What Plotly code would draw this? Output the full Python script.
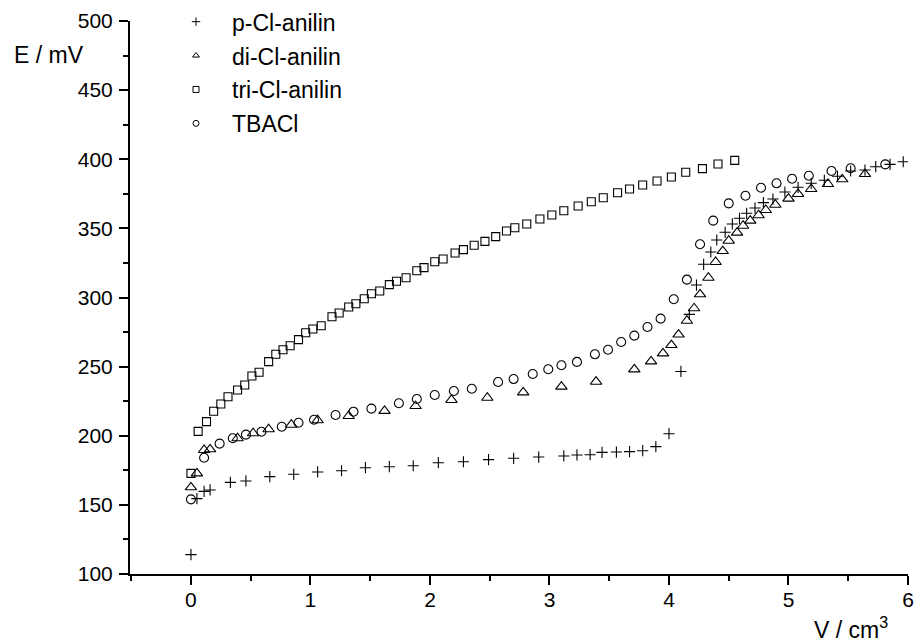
import plotly.graph_objects as go

# p-Cl-anilin (+)
p_x = [0.00, 0.05, 0.11, 0.16, 0.33, 0.46, 0.66, 0.86, 1.06, 1.26, 1.46, 1.66, 1.86, 2.07, 2.28, 2.49,
       2.70, 2.91, 3.12, 3.23, 3.34, 3.44, 3.56, 3.67, 3.78, 3.89, 4.00, 4.10, 4.17, 4.23, 4.29, 4.35,
       4.40, 4.47, 4.53, 4.59, 4.65, 4.72, 4.79, 4.87, 4.97, 5.08, 5.19, 5.30, 5.41, 5.52, 5.64, 5.73,
       5.85, 5.96]
p_y = [114.0, 154.5, 159.8, 160.8, 166.3, 167.3, 170.4, 172.1, 173.8, 174.7, 176.9, 177.6, 178.3, 180.5,
       181.2, 182.7, 183.7, 184.6, 185.4, 186.1, 186.3, 188.0, 188.2, 188.5, 189.2, 192.1, 201.5, 246.5,
       287.8, 309.0, 324.0, 332.9, 341.6, 347.2, 353.2, 357.3, 360.9, 364.7, 368.6, 371.2, 376.3, 379.7,
       382.6, 384.8, 387.7, 391.5, 392.2, 394.6, 396.3, 398.2]

# di-Cl-anilin (triangle)
d_x = [0.00, 0.05, 0.11, 0.16, 0.39, 0.52, 0.65, 0.84, 1.06, 1.32, 1.62, 1.88, 2.18, 2.48, 2.78, 3.10,
       3.39, 3.71, 3.85, 3.95, 4.02, 4.08, 4.15, 4.21, 4.26, 4.33, 4.39, 4.45, 4.50, 4.57, 4.62, 4.68,
       4.75, 4.81, 4.89, 5.00, 5.08, 5.19, 5.33, 5.45, 5.64]
d_y = [162.7, 172.8, 189.7, 190.2, 198.2, 201.8, 204.7, 208.0, 211.2, 214.3, 218.0, 221.5, 225.9, 227.5,
       231.4, 235.5, 239.1, 248.0, 253.8, 259.6, 265.6, 273.2, 283.2, 292.2, 302.3, 314.3, 325.7, 333.6,
       341.1, 346.9, 351.9, 355.6, 359.5, 363.3, 367.1, 371.5, 374.9, 378.5, 382.1, 385.5, 389.3]

# tri-Cl-anilin (square)
t_x = [0.00, 0.06, 0.13, 0.19, 0.25, 0.31, 0.39, 0.45, 0.51, 0.57, 0.65, 0.71, 0.77, 0.83, 0.90, 0.96,
       1.02, 1.09, 1.18, 1.24, 1.32, 1.38, 1.45, 1.51, 1.58, 1.66, 1.72, 1.80, 1.89, 1.95, 2.04, 2.11,
       2.21, 2.28, 2.37, 2.46, 2.55, 2.64, 2.71, 2.81, 2.92, 3.02, 3.12, 3.24, 3.35, 3.45, 3.57, 3.67,
       3.78, 3.90, 4.02, 4.14, 4.28, 4.41, 4.55]
t_y = [172.8, 203.2, 210.2, 217.7, 223.0, 228.2, 233.1, 236.7, 243.2, 245.9, 253.6, 258.9, 262.2, 265.1,
       269.5, 274.5, 277.2, 279.6, 286.1, 288.8, 293.1, 295.5, 299.1, 302.7, 304.7, 309.3, 311.7, 314.3,
       319.4, 321.6, 325.9, 327.8, 332.2, 334.6, 337.8, 340.6, 344.0, 348.1, 350.5, 353.2, 356.8, 359.7,
       362.8, 366.2, 369.3, 372.2, 375.8, 378.5, 381.4, 384.3, 387.2, 390.6, 393.2, 396.6, 399.2]

# TBACl (circle)
c_x = [0.00, 0.11, 0.24, 0.35, 0.46, 0.59, 0.76, 0.90, 1.03, 1.21, 1.36, 1.51, 1.74, 1.89, 2.04, 2.20,
       2.35, 2.57, 2.70, 2.86, 2.99, 3.10, 3.23, 3.38, 3.49, 3.60, 3.71, 3.82, 3.93, 4.04, 4.15, 4.26,
       4.37, 4.50, 4.64, 4.77, 4.90, 5.03, 5.17, 5.36, 5.52, 5.81]
c_y = [154.0, 184.1, 194.3, 198.2, 200.8, 202.9, 206.5, 209.4, 211.6, 215.0, 217.4, 219.6, 223.5, 226.6,
       229.5, 232.4, 234.0, 238.9, 241.0, 244.7, 248.1, 251.0, 253.4, 258.9, 262.2, 267.8, 272.4, 278.7,
       284.7, 298.7, 312.9, 338.5, 355.6, 368.1, 373.6, 379.4, 382.6, 385.9, 388.1, 391.5, 393.5, 396.3]

names = ["p-Cl-anilin", "di-Cl-anilin", "tri-Cl-anilin", "TBACl"]
xs = [p_x, d_x, t_x, c_x]
ys = [p_y, d_y, t_y, c_y]
symbols = ["cross-thin", "triangle-up-open", "square-open", "circle-open"]
sizes = [8, 10, 8, 9]

FONT = "Liberation Sans, Arial, sans-serif"
FS_TICK = 21
FS_TEXT = 23
fig = go.Figure()
for n, x, y, s, sz in zip(names, xs, ys, symbols, sizes):
    fig.add_trace(go.Scatter(x=x, y=y, mode="markers", name=n, showlegend=False,
                             marker=dict(symbol=s, size=sz, color="black",
                                         line=dict(color="black", width=1.1))))
for i, (n, s) in enumerate(zip(names, symbols)):
    fig.add_trace(go.Scatter(x=[None], y=[None], mode="markers", name=n, legendgroup=str(i),
                             marker=dict(symbol=s, size=6, color="black",
                                         line=dict(color="black", width=1))))

axis_common = dict(showgrid=False, zeroline=False, showline=True, linecolor="black", linewidth=2,
                   ticks="outside", ticklen=9, tickwidth=2, tickcolor="black",
                   ticklabeloverflow="allow",
                   tickfont=dict(family=FONT, size=FS_TICK, color="black"),
                   minor=dict(ticks="outside", ticklen=5, tickwidth=2, tickcolor="black"))

fig.update_layout(
    width=915, height=643,
    margin=dict(l=130, r=7, t=21, b=69, autoexpand=False),
    plot_bgcolor="white", paper_bgcolor="white",
    font=dict(family=FONT, size=FS_TEXT, color="black"),
    xaxis=dict(range=[-0.51, 6.0], dtick=1, tick0=0, minor_dtick=0.5, ticklabelstandoff=-3,
               **axis_common),
    yaxis=dict(range=[100, 500], dtick=50, tick0=100, minor_dtick=25, ticklabelstandoff=2,
               **axis_common),
    legend=dict(x=0.0386, y=1.0376, xanchor="left", yanchor="top", tracegroupgap=1.0, itemwidth=62,
                font=dict(family=FONT, size=FS_TEXT, color="black"), bgcolor="rgba(0,0,0,0)"),
    annotations=[
        dict(text="E / mV", xref="paper", yref="paper", x=-0.152, y=0.9385, xanchor="left",
             yanchor="middle", showarrow=False, font=dict(family=FONT, size=FS_TEXT)),
        dict(text="V / cm<sup>3</sup>", xref="paper", yref="paper", x=0.977, y=-0.0968,
             xanchor="right", yanchor="middle", showarrow=False, font=dict(family=FONT, size=FS_TEXT)),
    ],
)

fig.write_html("out.html", config={"displayModeBar": False},
               post_script="document.body.style.margin='0px';")
